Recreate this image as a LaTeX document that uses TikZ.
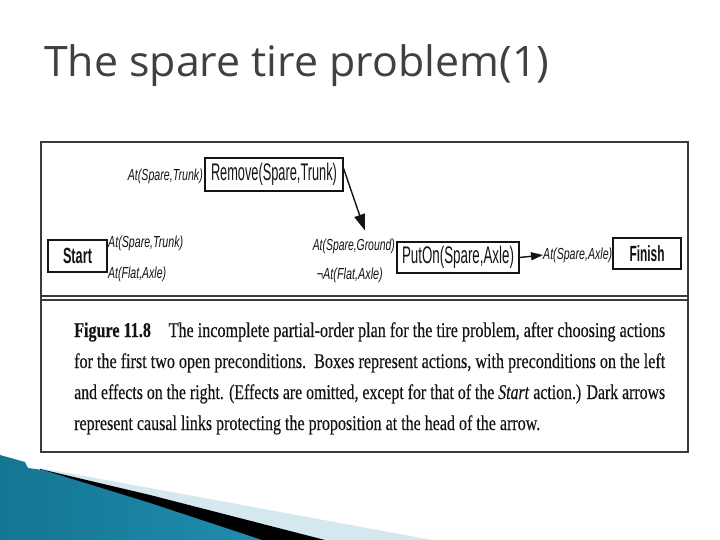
\documentclass[tikz,border=0pt]{standalone}
\usepackage{fontspec}
\setmainfont{Liberation Serif}
\newfontfamily\capf[FakeBold=0.35]{Liberation Serif}
\newfontfamily\arialf{Liberation Sans}
\newfontfamily\titlef{Open Sans}
\usetikzlibrary{arrows.meta,calc}
\newcommand\fitw[2]{\resizebox{#1}{\height}{#2}}
\definecolor{framec}{HTML}{3A3A3A}
\definecolor{titlegray}{HTML}{404040}
\definecolor{inkc}{HTML}{141414}
\definecolor{lightstripe}{HTML}{D5E8EF}
\definecolor{tealA}{RGB}{20,118,146}
\definecolor{tealB}{RGB}{72,176,212}
\definecolor{tealC}{RGB}{32,140,176}
\begin{document}
\begin{tikzpicture}[x=1pt,y=-1pt,
  box/.style={draw=inkc,line width=1.2pt,inner sep=0pt,text=inkc,font=\arialf\fontsize{24}{24}\selectfont},
  boldbox/.style={box,font=\arialf\bfseries\fontsize{22}{22}\selectfont},
  lab/.style={inner sep=0pt,text=inkc,font=\arialf\itshape\fontsize{16}{16}\selectfont},
  captext/.style={anchor=base west,inner sep=0pt,text=inkc,font=\capf\fontsize{21}{21}\selectfont},
  link/.style={draw=inkc,line width=1.4pt,-{Triangle[length=16pt,width=11pt]}},
  shortlink/.style={draw=inkc,line width=1.4pt,-{Triangle[length=12pt,width=8pt]}}]
\useasboundingbox (0,0) rectangle (720,540);
\fill[white] (0,0) rectangle (720,540);

% title
\node[anchor=base west,inner sep=0pt,text=titlegray,font=\titlef\fontsize{42}{42}\selectfont] (title) at (44,77) {\fitw{505pt}{The spare tire problem(1)}};

% frame
\draw[framec,line width=2pt] (41,142) rectangle (688,452);
\draw[framec,line width=1.6pt] (41,296) -- (688,296) (41,300) -- (688,300);

% action boxes
\node[box,minimum width=138pt,minimum height=33pt] (rem) at (274,174.5) {\fitw{126pt}{Remove(Spare,Trunk)}};
\node[boldbox,minimum width=59pt,minimum height=32pt] (start) at (77.5,256) {\fitw{29pt}{Start}};
\node[box,minimum width=122pt,minimum height=31pt] (puton) at (458,257.5) {\fitw{112pt}{PutOn(Spare,Axle)}};
\node[boldbox,minimum width=68pt,minimum height=31pt] (finish) at (647,253.5) {\fitw{35pt}{Finish}};

% conditions
\node[lab,anchor=east] (pre1) at (203,176) {\fitw{75pt}{At(Spare,Trunk)}};
\node[lab,anchor=west] (eff1) at (108,243) {\fitw{75pt}{At(Spare,Trunk)}};
\node[lab,anchor=west] (eff2) at (108,274) {\fitw{58pt}{At(Flat,Axle)}};
\node[lab,anchor=east] (pre2) at (395,246) {\fitw{82pt}{At(Spare,Ground)}};
\node[lab,anchor=east] (pre3) at (383,275) {\fitw{66pt}{¬At(Flat,Axle)}};
\node[lab,anchor=west] (pre4) at (543,255) {\fitw{69pt}{At(Spare,Axle)}};

% causal links
\draw[link] ([yshift=6pt]rem.east) -- ([xshift=11pt,yshift=8pt]pre2.north);
\draw[shortlink] (puton.east) -- (pre4.west);

% caption
\node[captext] (c1) at (74,337) {\fitw{591pt}{\textbf{Figure 11.8}\hspace{1.1em}The incomplete partial-order plan for the tire problem, after choosing actions}};
\node[captext] (c2) at (74,368) {\fitw{591pt}{for the first two open preconditions.\ \ Boxes represent actions, with preconditions on the left}};
\node[captext] (c3) at (74,399) {\fitw{591pt}{and effects on the right. (Effects are omitted, except for that of the \textit{Start} action.) Dark arrows}};
\node[captext] (c4) at (74,430) {\fitw{466pt}{represent causal links protecting the proposition at the head of the arrow.}};

% corner decoration
\fill[lightstripe] (40,468) -- (150,488) -- (432,540) -- (40,540) -- cycle;
\fill[black] (40,469) -- (150,495) -- (325,540) -- (40,540) -- cycle;
\shade[left color=tealA,middle color=tealB,right color=tealC] (0,455) -- (25,462) -- (28,468) -- (43,470) -- (150,503) -- (262,540) -- (0,540) -- cycle;
\end{tikzpicture}
\end{document}
